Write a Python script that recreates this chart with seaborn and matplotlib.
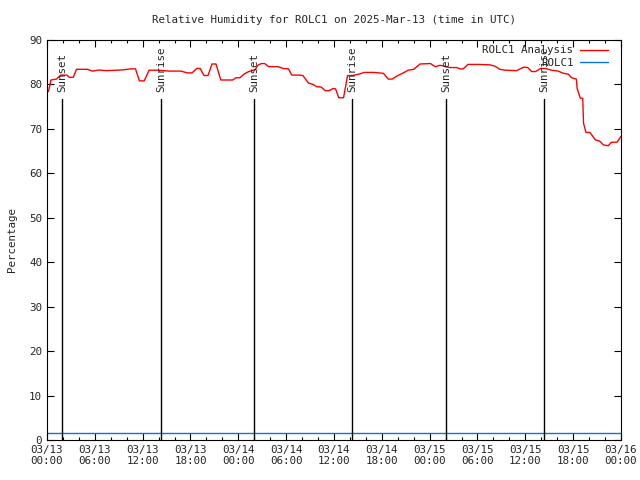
import pandas as pd
import matplotlib
matplotlib.use("Agg")
import matplotlib.pyplot as plt
import matplotlib.dates as mdates
import seaborn as sns

# hours after 2025-03-13 00:00 UTC and relative humidity (%)
hours = [0.0, 0.2, 0.5, 1.2, 1.7, 2.5, 2.8, 3.3, 3.7, 5.1, 5.7, 6.5, 7.4, 9.4,
         10.5, 11.1, 11.6, 12.2, 12.8, 14.0, 15.3, 16.8, 17.6, 18.2, 18.8, 19.2,
         19.7, 20.2, 20.7, 21.2, 21.8, 23.3, 23.7, 24.2, 24.7, 25.3, 26.1, 26.5,
         26.9, 27.3, 27.8, 29.0, 29.6, 30.3, 30.7, 31.7, 32.1, 32.8, 33.4, 33.8,
         34.4, 34.9, 35.4, 35.9, 36.2, 36.6, 37.2, 37.7, 38.3, 39.1, 39.8, 41.0,
         42.2, 42.8, 43.3, 43.9, 44.7, 45.3, 46.0, 46.4, 46.8, 48.1, 48.7, 49.3,
         49.9, 50.5, 51.4, 51.8, 52.2, 52.8, 54.1, 55.6, 56.2, 56.8, 57.5, 58.9,
         59.8, 60.3, 60.8, 61.3, 61.9, 62.5, 63.3, 64.1, 64.8, 65.4, 65.8, 66.4,
         66.5, 66.9, 67.2, 67.3, 67.6, 68.1, 68.8, 69.3, 69.8, 70.4, 70.8, 71.5,
         72.0]
rh = [78.2, 78.5, 81.0, 81.2, 82.1, 82.1, 81.6, 81.6, 83.4, 83.4, 83.0, 83.25, 83.1, 83.25,
      83.5, 83.5, 80.8, 80.8, 83.2, 83.2, 83.0, 83.0, 82.6, 82.6, 83.6, 83.6,
      82.0, 82.0, 84.6, 84.6, 81.0, 81.0, 81.5, 81.5, 82.3, 82.9, 83.3, 84.4,
      84.7, 84.7, 84.0, 84.0, 83.6, 83.5, 82.1, 82.1, 82.0, 80.3, 80.0, 79.5,
      79.4, 78.6, 78.6, 79.1, 79.0, 77.0, 77.0, 82.0, 82.0, 82.3, 82.7, 82.7,
      82.5, 81.2, 81.2, 81.9, 82.6, 83.2, 83.4, 84.0, 84.6, 84.7, 84.0, 84.3,
      84.1, 83.8, 83.8, 83.5, 83.5, 84.5, 84.5, 84.4, 84.1, 83.4, 83.2, 83.1,
      83.9, 83.8, 82.9, 82.9, 83.6, 83.6, 83.2, 83.0, 82.5, 82.3, 81.5, 81.2,
      79.1, 76.9, 76.9, 71.3, 69.2, 69.2, 67.5, 67.3, 66.4, 66.2, 67.0, 67.0,
      68.3]

# observed station value (flat near the bottom)
obs_hours = [0.0, 72.0]
obs_rh = [1.6, 1.6]

# sun events (hours after start)
sun_hours = [1.88, 14.3, 25.97, 38.27, 50.06, 62.36]
sun_labels = ["Sunset", "Sunrise", "Sunset", "Sunrise", "Sunset", "Sunrise"]

start = pd.Timestamp("2025-03-13 00:00")
df = pd.DataFrame({"time": start + pd.to_timedelta(hours, unit="h"), "rh": rh})
obs = pd.DataFrame({"time": start + pd.to_timedelta(obs_hours, unit="h"), "rh": obs_rh})

sns.set_theme(style="ticks")
plt.rcParams["font.family"] = ["DejaVu Sans Mono"]
plt.rcParams["font.size"] = 7.5

fig = plt.figure(figsize=(6.4, 4.8), dpi=100)
ax = fig.add_axes([0.0734, 0.0833, 0.8969, 0.8334])

sns.lineplot(data=df, x="time", y="rh", ax=ax, color="red", linewidth=1,
             label="ROLC1 Analysis")
sns.lineplot(data=obs, x="time", y="rh", ax=ax, color="#0a74e0", linewidth=1,
             label="ROLC1")

for h, lab in zip(sun_hours, sun_labels):
    t = start + pd.Timedelta(hours=h)
    ax.plot([t, t], [0, 76.8], color="black", linewidth=1)
    ax.text(t, 78.2, lab, rotation=90, ha="center", va="bottom", fontsize=7.8)

ax.set_xlim(start, start + pd.Timedelta(hours=72))
ax.set_ylim(0, 90)
ax.set_yticks(range(0, 91, 10))
ax.xaxis.set_major_locator(mdates.HourLocator(byhour=[0, 6, 12, 18]))
ax.xaxis.set_minor_locator(mdates.HourLocator(interval=2))
ax.xaxis.set_major_formatter(mdates.DateFormatter("%m/%d\n%H:%M"))
ax.tick_params(which="both", direction="in", top=True, right=True,
               labelsize=7.8, width=0.8, color="black")
ax.tick_params(which="major", length=5)
ax.tick_params(which="minor", length=2.5)
for s in ax.spines.values():
    s.set_linewidth(0.8)
    s.set_color("black")

ax.set_xlabel("")
ax.set_ylabel("Percentage", fontsize=7.8, labelpad=9)
ax.set_title("Relative Humidity for ROLC1 on 2025-Mar-13 (time in UTC)",
             fontsize=7.8, pad=12)

ax.legend(loc="upper right", bbox_to_anchor=(0.987, 1.0), frameon=False,
          markerfirst=False, fontsize=7.8, handlelength=2.6,
          handletextpad=0.6, borderaxespad=0.1, labelspacing=0.2)

fig.savefig("out.png", dpi=100)
